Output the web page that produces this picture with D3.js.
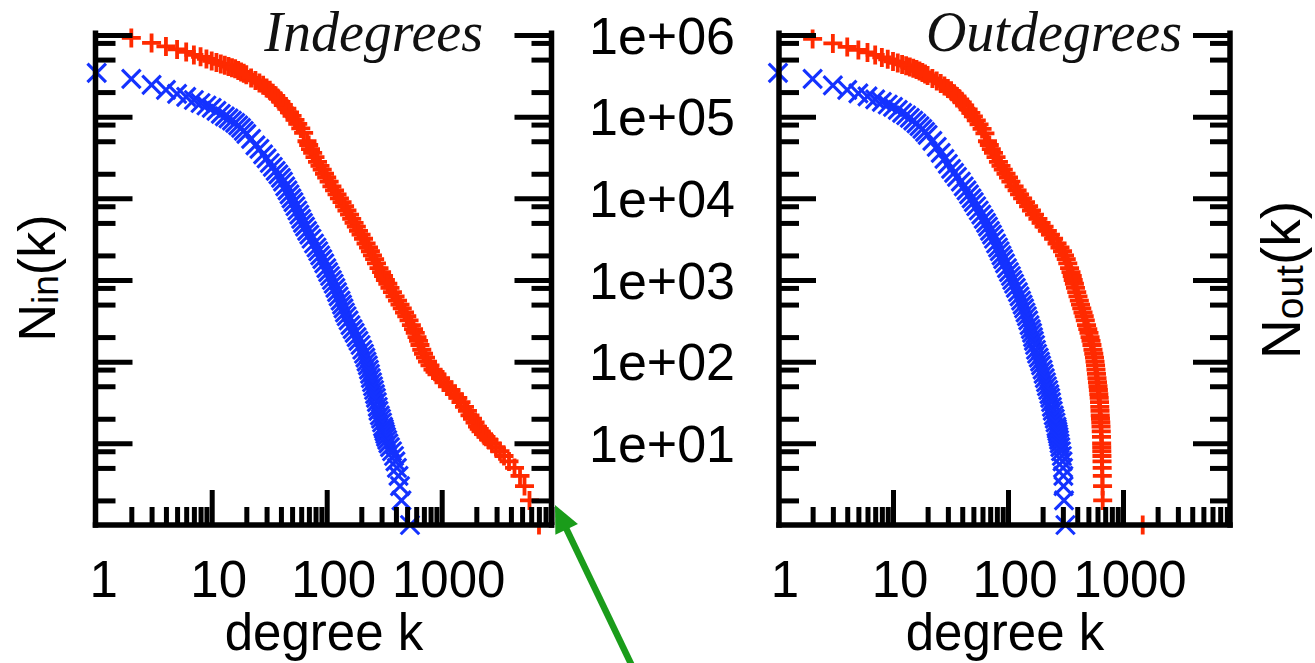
<!DOCTYPE html>
<html>
<head>
<meta charset="utf-8">
<script src="https://cdn.jsdelivr.net/npm/d3@7"></script>
<style>
  html, body { margin: 0; padding: 0; background: #ffffff; }
  svg { display: block; }
</style>
</head>
<body>
<svg id="chart" width="1315" height="663"></svg>
<script>
// ---------------- data ----------------
// In-degree panel, blue (x markers)
const inBlueK = [1,2,3,4,5,6,7,8,9,10,11,12,13,14,15,16,17,18,19,20,22,24,26,28,30,32,34,36,38,40,
  41.7,43.6,45.6,47.5,49.4,51.4,53.5,55.6,57.8,60.0,62.2,64.8,67.6,70.6,73.8,77.6,81.5,84.5,87.8,91.6,
  95.3,99.3,103,107,111,115,119,123,127,132,136,140,144,149,155,161,168,175,182,189,
  197,204,211,217,222,228,233,238,242,248,253,258,263,268,273,278,282,290,297,303,
  309,314,318,323,328,336,344,355,370,385,396,408,421,434,447,530];
const inBlueN = [3.44e5,2.90e5,2.45e5,2.13e5,1.90e5,1.75e5,1.60e5,1.47e5,1.37e5,1.28e5,1.18e5,1.08e5,1.01e5,9.52e4,8.92e4,8.38e4,7.82e4,7.28e4,6.70e4,6.15e4,5.34e4,4.45e4,4.03e4,3.45e4,3.08e4,2.71e4,2.43e4,2.17e4,1.96e4,1.78e4,
  16000,14000,12500,11200,10000,9000,8000,7100,6300,5600,5000,4500,4000,3600,3200,2800,2500,2250,2000,1800,
  1600,1400,1250,1120,1000,900,800,710,630,560,500,450,400,360,320,280,250,225,200,180,
  160,140,125,112,100,90,80,71,63,56,50,45,40,36,32,28,25,22,20,18,
  16,15,14,13,12,11,10,9,8,7,6,5,4,3,2,1];

// In-degree panel, red (+ markers)
const inRedK = [2,3,4,5,6,7,8,9,10,11,12,13,14,15,16,17,18,19,20,22,24,26,28,30,32,34,36,38,40,42,45,47.5,50,53,56,59.5,63,
  67.4,69.7,72.3,75.5,79.1,83.2,87.4,91.4,95.7,100,105,111,117,123,129,136,143,150,158,165,
  173,181,189,199,209,220,231,240,250,261,271,285,300,312,324,340,355,373,393,413,
  434,454,475,497,520,545,569,589,610,629,647,671,695,723,753,791,840,875,910,977,
  1047,1122,1205,1291,1380,1472,1578,1675,1762,1853,1950,2048,2120,2198,2310,2427,2578,2737,2965,3213,
  3483,3848,4297,4797,5248,5799,7015];
const inRedN = [9.22e5,8.00e5,7.25e5,6.66e5,6.21e5,5.70e5,5.40e5,5.09e5,4.82e5,4.62e5,4.43e5,4.27e5,4.12e5,3.98e5,3.85e5,3.68e5,3.53e5,3.39e5,3.25e5,2.98e5,2.78e5,2.59e5,2.42e5,2.25e5,2.10e5,1.94e5,1.80e5,1.65e5,1.52e5,1.39e5,1.25e5,1.13e5,1.02e5,9.12e4,8.15e4,7.18e4,6.32e4,
  50000,45000,40000,36000,32000,28000,25000,22500,20000,18000,16000,14000,12500,11200,10000,9000,8000,7100,6300,5600,
  5000,4500,4000,3600,3200,2800,2500,2250,2000,1800,1600,1400,1250,1120,1000,900,800,710,630,560,
  500,450,400,360,320,280,250,225,200,180,160,140,125,112,100,90,80,75,70,63,
  56,50,45,40,36,32,28,25,22,20,18,16,15,14,13,12,11,10,9,8,
  7,6,5,4,3,2,1];

// Out-degree panel, blue (x markers)
const outBlueK = [1,2,3,4,5,6,7,8,9,10,11,12,13,14,15,16,17,18,19,20,22,24,26,28,30,32,34,36,
  38.9,41.2,43.6,45.8,48.2,50.4,52.9,55.7,58.6,61.5,64.4,67.0,69.7,72.6,75.5,78.7,81.9,84.7,87.8,90.8,
  94.2,98.0,102,106,109,113,117,122,126,130,134,138,142,146,150,154,158,162,165,168,
  172,175,179,185,190,194,200,204,209,214,218,224,229,233,237,241,245,250,255,259,
  264,266,269,272,275,278,281,285,289,294,298,301,303,304,307,316];
const outBlueN = [3.44e5,2.90e5,2.41e5,2.13e5,1.93e5,1.77e5,1.63e5,1.52e5,1.41e5,1.32e5,1.21e5,1.11e5,1.04e5,9.66e4,8.95e4,8.26e4,7.66e4,7.08e4,6.50e4,5.98e4,5.05e4,4.26e4,3.60e4,3.04e4,2.64e4,2.29e4,2.05e4,1.83e4,
  16000,14000,12500,11200,10000,9000,8000,7100,6300,5600,5000,4500,4000,3600,3200,2800,2500,2250,2000,1800,
  1600,1400,1250,1120,1000,900,800,710,630,560,500,450,400,360,320,280,250,225,200,180,
  160,140,125,112,100,90,80,71,63,56,50,45,40,36,32,28,25,22,20,18,
  16,15,14,13,12,11,10,9,8,7,6,5,4,3,2,1];

// Out-degree panel, red (+ markers)
const outRedK = [2,3,4,5,6,7,8,9,10,11,12,13,14,15,16,17,18,19,20,22,24,26,28,30,32,34,36,38,40,42,45,47.5,50,53,56,59.5,63,
  66.3,68.8,71.6,74.8,78.7,82.6,86.9,91.0,96.1,101,106,113,120,126,134,142,151,160,170,182,
  194,206,220,234,249,267,283,298,310,321,331,343,353,362,369,378,386,396,406,417,
  427,438,449,460,470,482,494,506,517,527,537,548,557,565,571,577,582,588,594,600,
  606,611,616,621,625,628,631,634,637,641,644,647,650,652,653,654,656,657,659,661,
  664,666,1484];
const outRedN = [8.96e5,7.89e5,7.15e5,6.57e5,6.12e5,5.70e5,5.32e5,5.03e5,4.75e5,4.55e5,4.36e5,4.21e5,4.07e5,3.92e5,3.79e5,3.63e5,3.48e5,3.34e5,3.20e5,2.94e5,2.74e5,2.55e5,2.38e5,2.22e5,2.07e5,1.91e5,1.77e5,1.63e5,1.50e5,1.37e5,1.23e5,1.11e5,1.01e5,9.0e4,8.04e4,7.08e4,6.24e4,
  50000,45000,40000,36000,32000,28000,25000,22500,20000,18000,16000,14000,12500,11200,10000,9000,8000,7100,6300,5600,
  5000,4500,4000,3600,3200,2800,2500,2250,2000,1800,1600,1400,1250,1120,1000,900,800,710,630,560,
  500,450,400,360,320,280,250,225,200,180,160,140,125,112,100,90,80,71,63,56,
  50,45,40,36,32,28,25,22,20,18,16,14,12,10,9,8,7,6,5,4,
  3,2,1];

const xTickValues = [1, 10, 100, 1000];
const xTickLabels = ["1", "10", "100", "1000"];
const yTickValues = [1e6, 1e5, 1e4, 1e3, 1e2, 1e1];
const yTickLabels = ["1e+06", "1e+05", "1e+04", "1e+03", "1e+02", "1e+01"];
const panelTitles = ["Indegrees", "Outdegrees"];
const xAxisTitle = "degree k";
const yAxisTitles = [["N", "in", "(k)"], ["N", "out", "(k)"]];

// ---------------- layout ----------------
const BLUE = "#1432ff", RED = "#ff2a00", GREEN = "#1a9c1a";
const svg = d3.select("#chart");
svg.append("rect").attr("width", 1315).attr("height", 663).attr("fill", "#fff");

const yScale = d3.scaleLog().domain([1, 1e6]).range([525, 35]);
const BOTTOM = 525, TOP = 30.5;

const zip = (ks, ns) => ks.map((k, i) => ({k: k, n: ns[i]}));

const panels = [
  {title: panelTitles[0], blue: zip(inBlueK, inBlueN), red: zip(inRedK, inRedN),
   r0: 96.7, left: 95.5, right: 551.5, titleEnd: 483, xTitleX: 324},
  {title: panelTitles[1], blue: zip(outBlueK, outBlueN), red: zip(outRedK, outRedN),
   r0: 778, left: 779, right: 1230, titleEnd: 1182, xTitleX: 1005}
];

const plusType = {draw(ctx, size) { const r = Math.sqrt(size) / 2; ctx.moveTo(-r, 0); ctx.lineTo(r, 0); ctx.moveTo(0, -r); ctx.lineTo(0, r); }};
const crossType = {draw(ctx, size) { const r = Math.sqrt(size) / 2; ctx.moveTo(-r, -r); ctx.lineTo(r, r); ctx.moveTo(-r, r); ctx.lineTo(r, -r); }};
const plusPath = d3.symbol().type(plusType).size(19 * 19)();
const crossPath = d3.symbol().type(crossType).size(18.5 * 18.5)();

const isPow10 = v => Math.abs(Math.log10(v) - Math.round(Math.log10(v))) < 1e-9;
const yMajor = yScale.ticks().filter(v => isPow10(v) && v > 1);
const yMinor = yScale.ticks().filter(v => { const m = Math.round(v / Math.pow(10, Math.floor(Math.log10(v) + 1e-9))); return m === 2 || m === 5 || m === 8; });

panels.forEach((p, pi) => {
  const xScale = d3.scaleLog().domain([1, 1e4]).range([p.r0, p.r0 + 460]);
  const g = svg.append("g");

  // data marks
  g.append("g").selectAll("path").data(p.red).join("path")
    .attr("d", plusPath)
    .attr("transform", d => `translate(${xScale(d.k)},${yScale(d.n)})`)
    .attr("fill", "none").attr("stroke", RED).attr("stroke-width", 3.8);
  g.append("g").selectAll("path").data(p.blue).join("path")
    .attr("d", crossPath)
    .attr("transform", d => `translate(${xScale(d.k)},${yScale(d.n)})`)
    .attr("fill", "none").attr("stroke", BLUE).attr("stroke-width", 3.1);

  // ticks (inside, on left, right and bottom)
  const styleAxis = sel => { sel.select(".domain").remove(); sel.selectAll("line").attr("stroke", "#000").attr("stroke-width", 5); sel.selectAll("text").remove(); };
  g.append("g").attr("transform", `translate(${p.left},0)`)
    .call(d3.axisRight(yScale).tickValues(yMajor).tickSize(37).tickFormat("")).call(styleAxis);
  g.append("g").attr("transform", `translate(${p.left},0)`)
    .call(d3.axisRight(yScale).tickValues(yMinor).tickSize(20).tickFormat("")).call(styleAxis);
  g.append("g").attr("transform", `translate(${p.right},0)`)
    .call(d3.axisLeft(yScale).tickValues(yMajor).tickSize(37).tickFormat("")).call(styleAxis);
  g.append("g").attr("transform", `translate(${p.right},0)`)
    .call(d3.axisLeft(yScale).tickValues(yMinor).tickSize(20).tickFormat("")).call(styleAxis);

  const xAll = xScale.ticks().filter(v => xScale(v) > p.left + 3 && xScale(v) < p.right + 1);
  const xMajor = xAll.filter(isPow10);
  const xMinor = xAll.filter(v => !isPow10(v));
  g.append("g").attr("transform", `translate(0,${BOTTOM})`)
    .call(d3.axisTop(xScale).tickValues(xMajor).tickSize(35).tickFormat("")).call(styleAxis);
  g.append("g").attr("transform", `translate(0,${BOTTOM})`)
    .call(d3.axisTop(xScale).tickValues(xMinor).tickSize(18).tickFormat("")).call(styleAxis);

  // frame (left, right, bottom; no top border)
  g.append("line").attr("x1", p.left).attr("x2", p.left).attr("y1", TOP).attr("y2", BOTTOM + 2.75)
    .attr("stroke", "#000").attr("stroke-width", 5.5);
  g.append("line").attr("x1", p.right).attr("x2", p.right).attr("y1", TOP).attr("y2", BOTTOM + 2.75)
    .attr("stroke", "#000").attr("stroke-width", 5.5);
  g.append("line").attr("x1", p.left - 2.75).attr("x2", p.right + 2.75).attr("y1", BOTTOM).attr("y2", BOTTOM)
    .attr("stroke", "#000").attr("stroke-width", 5.5);

  // x tick labels
  g.append("g").selectAll("text").data(xTickValues).join("text")
    .attr("x", v => xScale(v) + 7).attr("y", 597)
    .attr("text-anchor", "middle")
    .attr("font-family", "'Liberation Sans', Arial, sans-serif").attr("font-size", 51).attr("fill", "#000")
    .text((v, i) => xTickLabels[i]);

  // x axis title
  g.append("text").attr("x", p.xTitleX).attr("y", 650).attr("text-anchor", "middle")
    .attr("font-family", "'Liberation Sans', Arial, sans-serif").attr("font-size", 51).attr("fill", "#000")
    .text(xAxisTitle);

  // panel title
  g.append("text").attr("x", p.titleEnd).attr("y", 51).attr("text-anchor", "end")
    .attr("font-family", "'Liberation Serif', 'Times New Roman', serif").attr("font-style", "italic")
    .attr("font-size", 56).attr("fill", "#111")
    .text(p.title);
});

// shared y tick labels in the middle
svg.append("g").selectAll("text").data(yTickValues).join("text")
  .attr("x", 662).attr("y", v => yScale(v) + 18.5)
  .attr("text-anchor", "middle")
  .attr("font-family", "'Liberation Sans', Arial, sans-serif").attr("font-size", 52).attr("fill", "#000")
  .text((v, i) => yTickLabels[i]);

// y axis titles (rotated)
const yTitlePos = [{x: 55, y: 278, fs: 52, sub: 37}, {x: 1300, y: 280, fs: 55, sub: 39}];
yAxisTitles.forEach((parts, i) => {
  const pos = yTitlePos[i];
  const t = svg.append("text").attr("transform", `translate(${pos.x},${pos.y}) rotate(-90)`)
    .attr("text-anchor", "middle")
    .attr("font-family", "'Liberation Sans', Arial, sans-serif").attr("font-size", pos.fs).attr("fill", "#000");
  t.append("tspan").text(parts[0]);
  t.append("tspan").attr("font-size", pos.sub).attr("dy", 3).text(parts[1]);
  t.append("tspan").attr("dy", -3).text(parts[2]);
});

// green arrow
const tip = [555, 505], tail = [633, 668];
const ux = tip[0] - tail[0], uy = tip[1] - tail[1];
const len = Math.hypot(ux, uy), ex = ux / len, ey = uy / len;
const headL = 27, headW = 12.5;
const base = [tip[0] - ex * headL, tip[1] - ey * headL];
svg.append("line").attr("x1", tail[0]).attr("y1", tail[1]).attr("x2", base[0] + ex * 2).attr("y2", base[1] + ey * 2)
  .attr("stroke", GREEN).attr("stroke-width", 6.5);
svg.append("path")
  .attr("d", d3.line()([tip, [base[0] - ey * headW, base[1] + ex * headW], [base[0] + ey * headW, base[1] - ex * headW]]) + "Z")
  .attr("fill", GREEN);
</script>
</body>
</html>
